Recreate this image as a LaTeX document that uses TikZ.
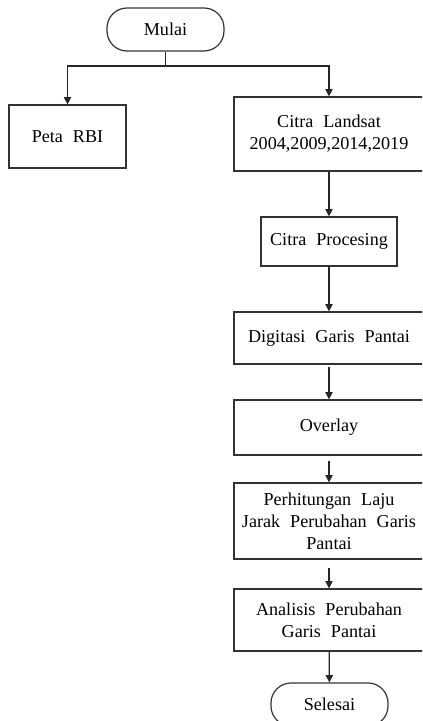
\documentclass[tikz,border=0pt]{standalone}
\usepackage{fontspec}
\setmainfont{Liberation Serif}[WordSpace=2.2]
\usetikzlibrary{arrows.meta, positioning, calc}

\begin{document}
\begin{tikzpicture}[x=0.75pt, y=-0.75pt, font=\fontsize{13.6}{16.5}\selectfont]

\tikzset{
  terminal/.style={draw=black!80, line width=0.9pt, rounded corners=15pt, minimum width=87.75pt, minimum height=32.25pt, inner sep=0pt},
  procbox/.style={draw=black!80, line width=0.9pt, minimum width=142.5pt, align=center, inner sep=0pt},
  flow/.style={-{Triangle[length=5.5pt, width=5.5pt]}, line width=0.9pt, black!85}
}

\path[use as bounding box, clip] (0,0) rectangle (422,721);

%top
\node[terminal] (mulai) at (165.5,29.5) {Mulai};
\node[procbox, minimum width=87.75pt, minimum height=47.25pt] (peta) at (67.5,136.5) {Peta RBI};
\node[procbox, minimum height=55.5pt] (landsat) at (329,134) {Citra Landsat\\2004,2009,2014,2019};
\coordinate (split) at (165.5,66);

\draw[line width=0.9pt, black!85] (mulai) -- (split);
\draw[flow] (split) -| (peta);
\draw[flow] (split) -| (landsat);

%column
\node[procbox, minimum width=102pt, minimum height=36.75pt] (proc) at (329,241.5) {Citra Procesing};
\node[procbox, minimum height=39pt] (digit) at (329,338) {Digitasi Garis Pantai};
\node[procbox, minimum height=41.25pt] (overlay) at (329,427.5) {Overlay};
\node[procbox, minimum height=57pt] (hitung) at (329,521) {Perhitungan Laju\\Jarak Perubahan Garis\\Pantai};
\node[procbox, minimum height=46.5pt] (analisis) at (329,620) {Analisis Perubahan\\Garis Pantai};
\node[terminal] (selesai) at (329.5,704.5) {Selesai};

\draw[flow] (landsat) -- (proc);
\draw[flow] (proc) -- (digit);
\draw[flow, shorten <=2pt] (digit) -- (overlay);
\draw[flow, shorten <=4pt] (overlay) -- (hitung);
\draw[flow, shorten <=6pt] (hitung) -- (analisis);
\draw[flow] (analisis) -- (selesai);

\end{tikzpicture}
\end{document}
